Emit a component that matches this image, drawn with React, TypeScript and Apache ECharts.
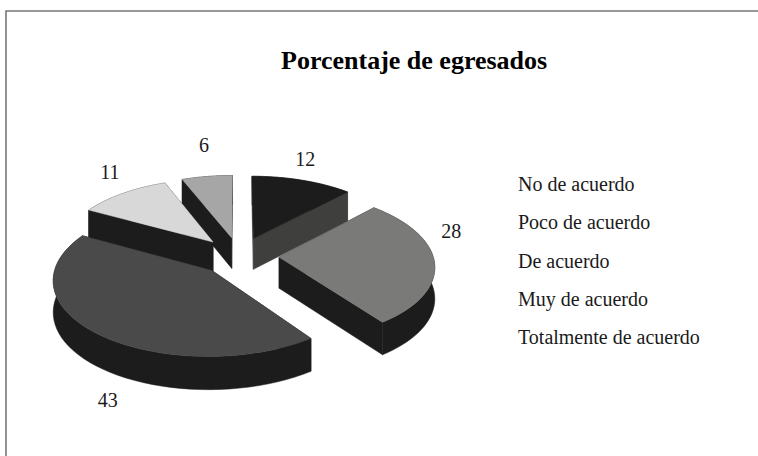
import React, { useEffect, useRef } from "react";
import * as echarts from "echarts";

const categories = ["No de acuerdo", "Poco de acuerdo", "De acuerdo", "Muy de acuerdo", "Totalmente de acuerdo"];
const values = [12, 28, 43, 11, 6];
const titleText = "Porcentaje de egresados";

// Style and layout, kept apart from the data
const topColors = ["#1c1c1c", "#7a7a78", "#4a4a4a", "#d8d8d8", "#a6a6a6"];
const sideColors = ["#3f3f3e", "#1c1c1c", "#1c1c1c", "#1c1c1c", "#1c1c1c"];
const paintOrder = [3, 4, 5, 2, 1];
const labelOffsets = [
  [3, -21],
  [17, -31],
  [12, 67],
  [-13, -22],
  [-3, -31],
];
const CX = 239;
const CY = 256;
const RX = 154;
const RY = 73;
const PERSPECTIVE = 0.11;
const EXPLODE = 0.26;
const DEPTH = 31;
const total = values.reduce((a, b) => a + b, 0);

function project(wx: number, wy: number, drop: boolean): number[] {
  const w = 1 + PERSPECTIVE * wy;
  const x = CX + (RX * wx) / w;
  const y = CY - (RY * wy) / w;
  return drop ? [x, y + DEPTH * (1 - 0.06 * wy)] : [x, y];
}

function sliceItem(index: number) {
  const before = values.slice(0, index).reduce((a, b) => a + b, 0);
  const a0 = (before / total) * Math.PI * 2;
  const a1 = ((before + values[index]) / total) * Math.PI * 2;
  const mid = (a0 + a1) / 2;
  const ox = EXPLODE * Math.sin(mid);
  const oy = EXPLODE * Math.cos(mid);
  const rim: number[][] = [];
  const steps = 48;
  for (let i = 0; i <= steps; i++) {
    const a = a0 + ((a1 - a0) * i) / steps;
    rim.push([ox + Math.sin(a), oy + Math.cos(a)]);
  }
  const top = (p: number[]) => project(p[0], p[1], false);
  const low = (p: number[]) => project(p[0], p[1], true);
  const apex = [ox, oy];
  const first = rim[0];
  const last = rim[steps];
  const side = sideColors[index];
  const poly = (points: number[][], fill: string, z2: number) => ({
    type: "polygon",
    z2,
    shape: { points },
    style: { fill, stroke: fill, lineWidth: 0.5 },
  });
  const labelAnchor = top([ox + Math.sin(mid), oy + Math.cos(mid)]);
  return {
    type: "group",
    children: [
      poly([...rim.map(top), ...rim.map(low).reverse()], side, 1),
      poly([top(apex), top(first), low(first), low(apex)], side, 2),
      poly([top(apex), top(last), low(last), low(apex)], side, 2),
      poly([top(apex), ...rim.map(top)], topColors[index], 3),
      {
        type: "text",
        z2: 4,
        style: {
          x: labelAnchor[0] + labelOffsets[index][0],
          y: labelAnchor[1] + labelOffsets[index][1],
          text: String(values[index]),
          fill: "#1a1a1a",
          font: "20px 'Liberation Serif'",
          align: "center",
          verticalAlign: "middle",
        },
      },
    ],
  };
}

export default function App() {
  const ref = useRef<HTMLDivElement>(null);
  useEffect(() => {
    const chart = echarts.init(ref.current!, undefined, { renderer: "svg" });
    chart.setOption({
      animation: false,
      backgroundColor: "#ffffff",
      title: {
        text: titleText,
        left: 276,
        top: 42,
        textStyle: { fontFamily: "'Liberation Serif'", fontWeight: "bold", fontSize: 26, color: "#000" },
      },
      legend: {
        show: true,
        orient: "vertical",
        left: 508,
        top: 169,
        icon: "none",
        itemWidth: 0,
        itemHeight: 14,
        itemGap: 18.3,
        selectedMode: false,
        data: categories,
        textStyle: { fontFamily: "'Liberation Serif'", fontSize: 20, color: "#1a1a1a", lineHeight: 20 },
      },
      graphic: [
        {
          type: "rect",
          shape: { x: 6, y: 11, width: 770, height: 460 },
          style: { fill: "none", stroke: "#777777", lineWidth: 1.6 },
          silent: true,
        },
      ],
      series: categories.map((name, index) => ({
        type: "custom",
        name,
        coordinateSystem: "none",
        z: 2 + paintOrder[index],
        data: [values[index]],
        itemStyle: { color: topColors[index] },
        renderItem: () => sliceItem(index),
      })),
    });
    return () => chart.dispose();
  }, []);
  return <div ref={ref} style={{ position: "fixed", left: 0, top: 0, width: 758, height: 456 }} />;
}
